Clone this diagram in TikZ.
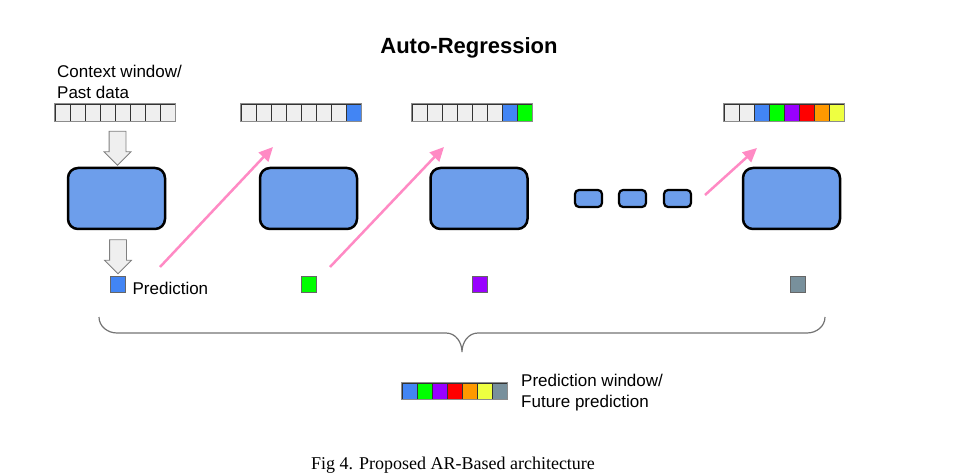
\documentclass[tikz,border=0pt]{standalone}
\usepackage{fontspec}
\setmainfont{Liberation Sans}
\newfontfamily\capfont{Liberation Serif}
\usetikzlibrary{positioning, shapes.arrows, arrows.meta}
\definecolor{cellgray}{HTML}{EFEFEF}
\definecolor{pblue}{HTML}{4285F4}
\definecolor{pgreen}{HTML}{00FF00}
\definecolor{ppurple}{HTML}{9900FF}
\definecolor{pred}{HTML}{FF0000}
\definecolor{porange}{HTML}{FF9900}
\definecolor{pyellow}{HTML}{EEFF41}
\definecolor{pslate}{HTML}{78909C}
\definecolor{modelblue}{HTML}{6D9EEB}
\definecolor{feedpink}{HTML}{FF8AC4}
\tikzset{
    cell/.style={draw=black!80, line width=0.8pt, minimum width=15pt, minimum height=17pt, inner sep=0pt},
    model/.style={draw, line width=2.5pt, rounded corners=10pt, fill=modelblue, minimum width=97pt, minimum height=61pt},
    minimodel/.style={draw, line width=2.2pt, rounded corners=4pt, fill=modelblue, minimum width=27pt, minimum height=17pt},
    downarrow/.style={single arrow, draw=black!50, line width=0.8pt, fill=cellgray, rotate=-90, minimum height=34pt, inner xsep=0pt, inner ysep=8pt, single arrow head extend=5pt},
    predsq/.style={draw=black!60, line width=0.8pt, minimum width=15pt, minimum height=16pt, inner sep=0pt},
    feed/.style={draw=feedpink, line width=2.5pt, -{Triangle[length=14pt,width=13pt]}},
    txt/.style={font=\fontsize{17}{21}\selectfont, align=left, inner sep=0pt},
    stripframe/.style={draw=black!45, line width=1.2pt}
}

\begin{document}
\begin{tikzpicture}[x=1pt, y=-1pt]
    \useasboundingbox (0,0) rectangle (962,476);

    \node[font=\fontsize{22}{26}\selectfont\bfseries, anchor=base] (title) at (469,54) {Auto-Regression};
    \node[txt, anchor=base west] (ctx) at (57,99) {Context window/\\Past data};

    % input windows
    \foreach \c [count=\i] in {cellgray,cellgray,cellgray,cellgray,cellgray,cellgray,cellgray,cellgray}
        \node[cell, fill=\c] (a-\i) at (47.5+15*\i,112.5) {};
    \foreach \c [count=\i] in {cellgray,cellgray,cellgray,cellgray,cellgray,cellgray,cellgray,pblue}
        \node[cell, fill=\c] (b-\i) at (233.5+15*\i,112.5) {};
    \foreach \c [count=\i] in {cellgray,cellgray,cellgray,cellgray,cellgray,cellgray,pblue,pgreen}
        \node[cell, fill=\c] (c-\i) at (404.5+15*\i,112.5) {};
    \foreach \c [count=\i] in {cellgray,cellgray,pblue,pgreen,ppurple,pred,porange,pyellow}
        \node[cell, fill=\c] (d-\i) at (716.5+15*\i,112.5) {};
    \foreach \s in {a,b,c,d}
        \draw[stripframe] (\s-1.north west) rectangle (\s-8.south east);

    % models
    \node[model] (m1) at (116.5,198.5) {};
    \node[model] (m2) at (308.5,198.5) {};
    \node[model] (m3) at (479,198.5) {};
    \node[model] (m4) at (791.5,198.5) {};
    \node[minimodel] (d1) at (588.5,198.5) {};
    \node[minimodel] (d2) at (632.5,198.5) {};
    \node[minimodel] (d3) at (677.5,198.5) {};

    \node[downarrow] (in1) at (117.5,144) {};
    \node[downarrow] (out1) at (118,252.5) {};

    % predictions
    \node[predsq, fill=pblue] (p1) at (117.5,284.5) {};
    \node[predsq, fill=pgreen] (p2) at (308.5,284) {};
    \node[predsq, fill=ppurple] (p3) at (479.5,284) {};
    \node[predsq, fill=pslate] (p4) at (797.5,284.5) {};
    \node[txt, right=7pt of p1, yshift=-4pt] (plab) {Prediction};

    % feed back into next window
    \coordinate (f1s) at (160,267);
    \coordinate (f1e) at (273,147);
    \coordinate (f2s) at (330,267);
    \coordinate (f2e) at (444,147);
    \coordinate (f3s) at (705,195);
    \coordinate (f3e) at (757,148);
    \draw[feed] (f1s) -- (f1e);
    \draw[feed] (f2s) -- (f2e);
    \draw[feed] (f3s) -- (f3e);

    % brace
    \draw[black!55, line width=1.2pt] (99,317) to[out=-90,in=180] (117,333) -- (446,333)
        to[out=0,in=90] (462,352) to[out=90,in=180] (478,333) -- (807,333) to[out=0,in=-90] (825,317);

    % prediction window
    \foreach \c [count=\i] in {pblue,pgreen,ppurple,pred,porange,pyellow,pslate}
        \node[cell, fill=\c, minimum height=16pt] (w-\i) at (394.5+15*\i,391) {};
    \draw[stripframe] (w-1.north west) rectangle (w-7.south east);
    \node[txt, anchor=base west] (wlab) at (521,407) {Prediction window/\\Future prediction};

    \node[font=\capfont\fontsize{18}{22}\selectfont, anchor=base] (cap) at (453,469) {Fig 4. Proposed AR-Based architecture};
\end{tikzpicture}
\end{document}
